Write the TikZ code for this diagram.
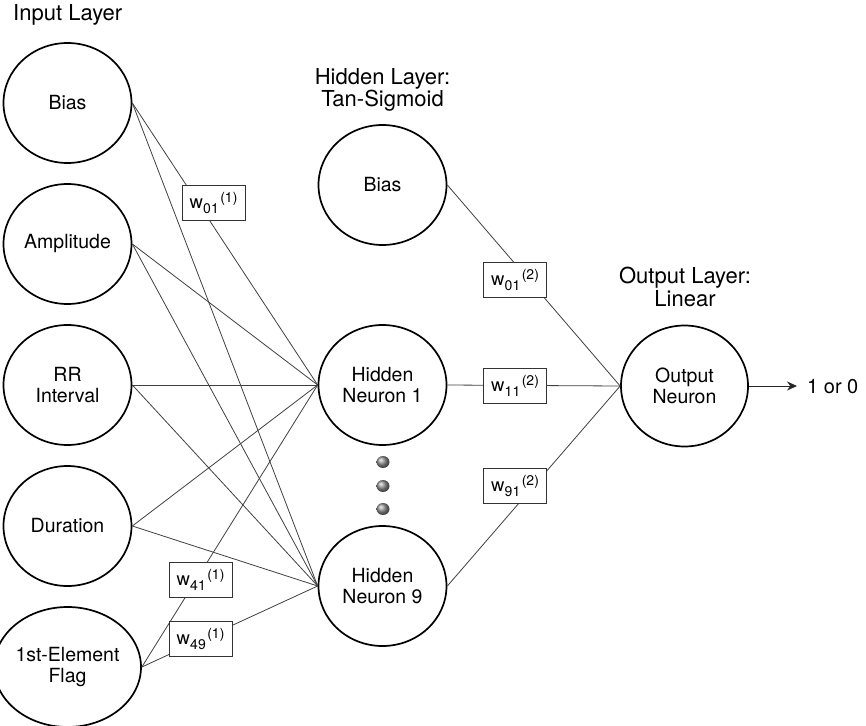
\documentclass[tikz,border=0pt]{standalone}
\usepackage{fontspec}
\setmainfont{TeX Gyre Heros}
\usetikzlibrary{shapes.geometric,arrows.meta}
\newcommand\wlabeltext[2]{\fontsize{18.5}{18.5}\selectfont w\kern0.3pt\raisebox{-5pt}{\fontsize{14}{14}\selectfont #1}\kern1.5pt\raisebox{6pt}{\fontsize{14}{14}\selectfont(#2)}}
\begin{document}
\begin{tikzpicture}[x=1pt,y=-1pt,
  neuron/.style={ellipse, draw=black, line width=1.7pt, minimum width=128pt, minimum height=120pt, inner sep=0pt, align=center, font=\fontsize{19.5}{21}\selectfont},
  conn/.style={line width=0.8pt, draw=black!75},
  wlab/.style={draw=black!80, line width=0.9pt, fill=white, minimum width=63pt, minimum height=35pt, inner sep=0pt},
  title/.style={font=\fontsize{22}{22.5}\selectfont, align=center, inner sep=0pt},
  dotball/.style={ellipse, minimum width=13pt, minimum height=12pt, inner sep=0pt, ball color=gray!85}
]
\useasboundingbox (0,0) rectangle (866,725);

% titles
\node[title, anchor=base west] (tin) at (13,21) {Input Layer};
\node[title, anchor=south] (thid) at (382.5,111.5) {Hidden Layer:\\Tan-Sigmoid};
\node[title, anchor=south] (tout) at (685,307) {Output Layer:\\Linear};

% input layer
\node[neuron] (in0) at (67.5,103) {Bias};
\node[neuron] (in1) at (67.5,244) {Amplitude};
\node[neuron] (in2) at (67.5,385) {RR\\Interval};
\node[neuron] (in3) at (67.5,526) {Duration};
\node[neuron] (in4) at (67.5,667) {1st-Element\\Flag};

% hidden layer
\node[neuron] (hb) at (382.5,185) {Bias};
\node[neuron] (h1) at (382.5,385) {Hidden\\Neuron 1};
\node[neuron] (h9) at (382.5,586) {Hidden\\Neuron 9};

% output
\node[neuron, minimum width=127pt, minimum height=121pt] (out) at (684.5,386) {Output\\Neuron};
\node[anchor=west, inner xsep=10pt, inner ysep=0pt, font=\fontsize{20}{20}\selectfont] (res) at (797,387) {1 or 0};

% ellipsis dots
\node[dotball] (d1) at (383,462) {};
\node[dotball] (d2) at (383,486) {};
\node[dotball] (d3) at (383,509) {};

% connectors input -> hidden
\foreach \s in {in0,in1,in2,in3,in4}{
  \draw[conn] (\s.east) -- (h1.west);
  \draw[conn] (\s.east) -- (h9.west);
}
% hidden -> output
\draw[conn] (hb.east) -- (out.west);
\draw[conn] (h1.east) -- (out.west);
\draw[conn] (h9.east) -- (out.west);
% output arrow
\draw[conn, draw=black!85, -{Stealth[length=10pt,width=9pt]}] (out.east) -- (out.east -| res.west);

% weight labels
\node[wlab] (w011) at (213.5,202.5) {\wlabeltext{01}{1}};
\node[wlab] (w012) at (515,280) {\wlabeltext{01}{2}};
\node[wlab] (w112) at (515,385.5) {\wlabeltext{11}{2}};
\node[wlab] (w912) at (515,485.5) {\wlabeltext{91}{2}};
\node[wlab] (w411) at (200.5,580) {\wlabeltext{41}{1}};
\node[wlab] (w491) at (200.5,638.5) {\wlabeltext{49}{1}};
\end{tikzpicture}
\end{document}
